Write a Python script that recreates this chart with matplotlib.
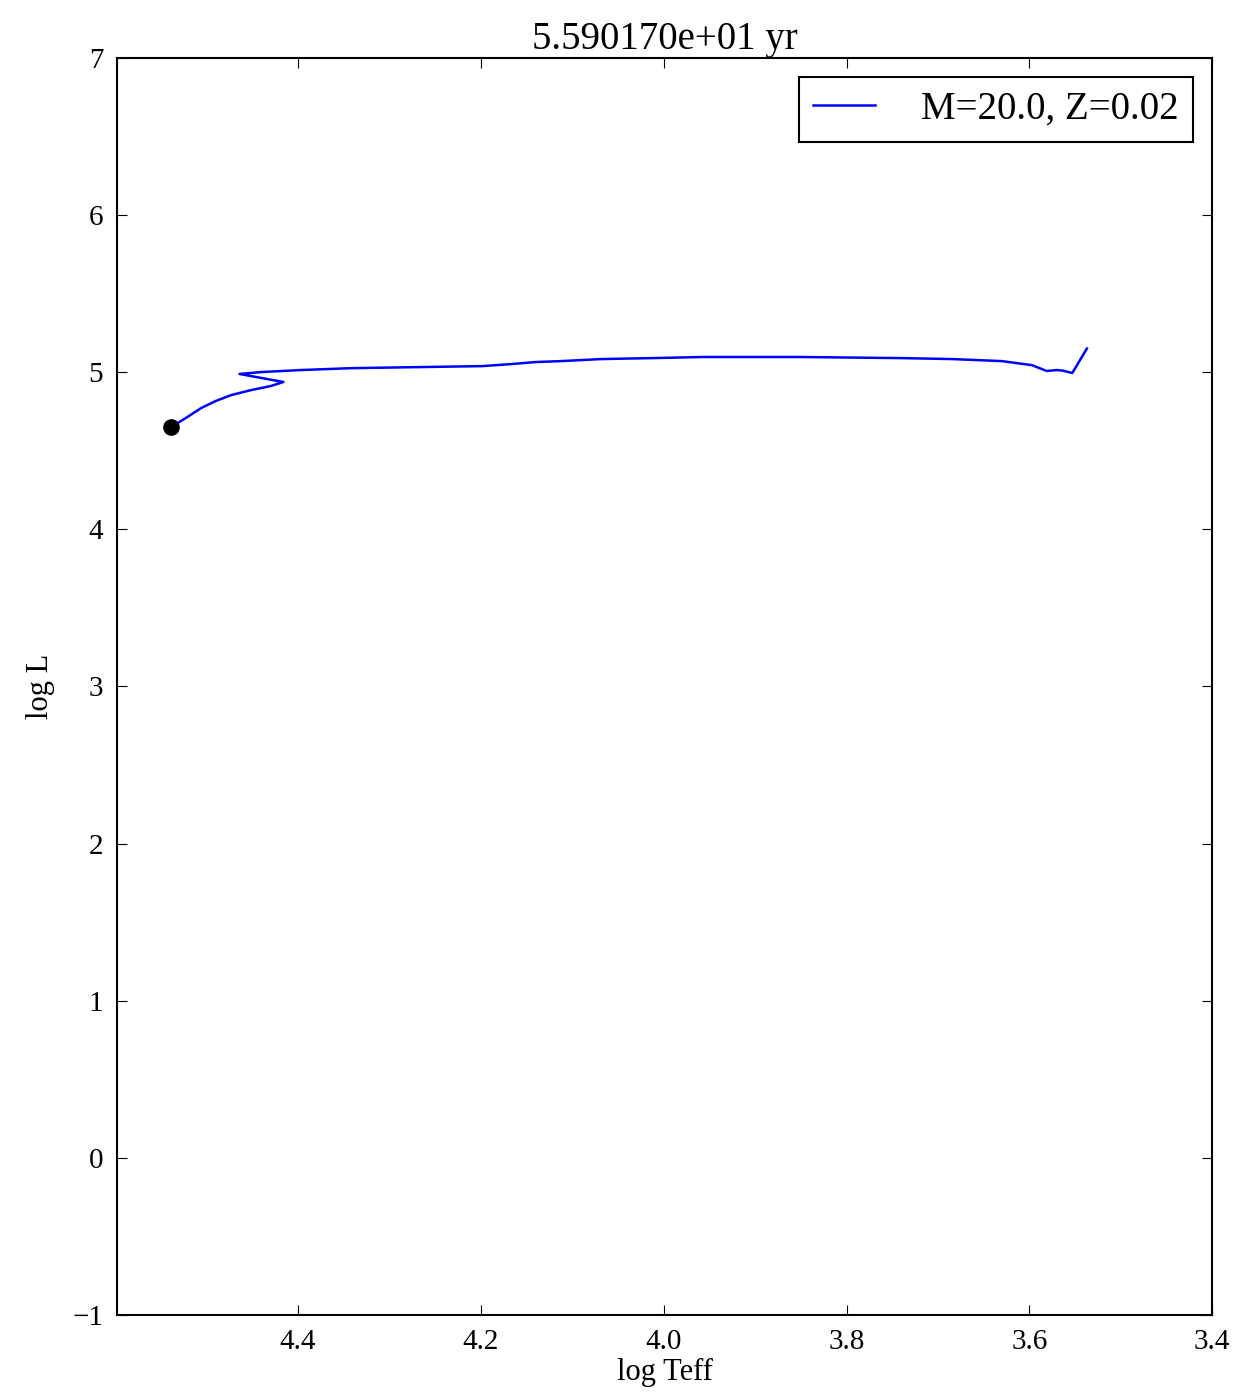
import matplotlib
matplotlib.use("Agg")
import matplotlib.pyplot as plt

# HR track of the M=20, Z=0.02 model
log_teff = [4.539, 4.523, 4.506, 4.490, 4.473, 4.451, 4.430, 4.416, 4.464,
            4.441, 4.397, 4.342, 4.265, 4.199, 4.167, 4.140, 4.112, 4.068,
            4.013, 3.958, 3.849, 3.740, 3.685, 3.630, 3.597, 3.581, 3.570,
            3.563, 3.553, 3.537]
log_l = [4.651, 4.708, 4.772, 4.817, 4.855, 4.887, 4.912, 4.938, 4.989,
         5.001, 5.014, 5.026, 5.033, 5.039, 5.052, 5.065, 5.071, 5.084,
         5.090, 5.097, 5.097, 5.090, 5.084, 5.071, 5.045, 5.008, 5.014,
         5.010, 4.995, 5.151]

current_teff = 4.539
current_l = 4.651
age = 5.590170e+01
label = "M=20.0, Z=0.02"

plt.rcParams['font.family'] = ['Liberation Serif', 'DejaVu Serif']
plt.rcParams['xtick.direction'] = 'in'
plt.rcParams['ytick.direction'] = 'in'
plt.rcParams['xtick.top'] = True
plt.rcParams['ytick.right'] = True
plt.rcParams['xtick.major.size'] = 7
plt.rcParams['ytick.major.size'] = 7

fig = plt.figure(figsize=(12.36, 13.98), dpi=100)
ax = fig.add_axes([0.0947, 0.0594, 0.886, 0.8991])

ax.plot(log_teff, log_l, color='blue', lw=1.8, label=label)
ax.plot(current_teff, current_l, 'o', color='black', ms=11)

ax.set_xlim(4.598, 3.4)
ax.set_ylim(-1, 7)
ax.set_xticks([4.4, 4.2, 4.0, 3.8, 3.6, 3.4])
ax.set_yticks(range(-1, 8))
ax.tick_params(labelsize=21, pad=10)
for s in ax.spines.values():
    s.set_linewidth(1.5)

ax.set_xlabel("log Teff", fontsize=22, labelpad=2)
ax.set_ylabel("log L", fontsize=22, labelpad=12)
ax.set_title("%e yr" % age, fontsize=28, pad=6)

leg = ax.legend(loc='upper right', fontsize=28, fancybox=False, framealpha=1,
                edgecolor='black', handlelength=1.6, borderpad=0.35,
                handletextpad=1.2, borderaxespad=0.5)
leg.get_frame().set_linewidth(1.5)

fig.savefig("out.png", dpi=100, facecolor='white')
